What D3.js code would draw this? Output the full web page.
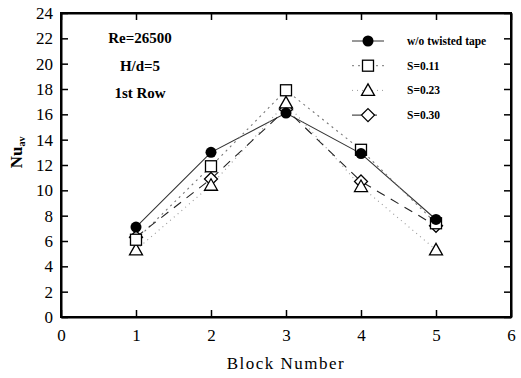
<!DOCTYPE html>
<html lang="en">
<head>
<meta charset="UTF-8">
<title>Nu av vs block number</title>
<style>
  body { margin: 0; background: #fff; }
</style>
</head>
<body>
<script src="https://d3js.org/d3.v7.min.js"></script>
<div id="chart"></div>
<script>

const blocks = [1, 2, 3, 4, 5];
const noTape = [7.1, 13.0, 16.1, 12.9, 7.7];
const s011 = [6.1, 11.9, 17.9, 13.2, 7.4];
const s023 = [5.3, 10.4, 16.9, 10.3, 5.3];
const s030 = [6.3, 10.9, 16.4, 10.7, 7.2];
const xTicks = [0, 1, 2, 3, 4, 5, 6];
const yTicks = [0, 2, 4, 6, 8, 10, 12, 14, 16, 18, 20, 22, 24];
const legendLabels = ["w/o twisted tape", "S=0.11", "S=0.23", "S=0.30"];
const notes = ["Re=26500", "H/d=5", "1st Row"];

const FONT = "Liberation Serif";
const width = 521, height = 378;
const margin = {left: 61, right: 10, top: 13, bottom: 61};

const svg = d3.select("#chart").append("svg")
    .attr("width", width)
    .attr("height", height)
    .style("font-family", FONT);

const x = d3.scaleLinear().domain([0, 6]).range([margin.left, width - margin.right]);
const y = d3.scaleLinear().domain([0, 24]).range([height - margin.bottom, margin.top]);

// series setup
const series = [
    {name: legendLabels[0], values: noTape, marker: "circle", dash: null, stroke: "#333"},
    {name: legendLabels[1], values: s011, marker: "square", dash: "2,4", stroke: "#777"},
    {name: legendLabels[2], values: s023, marker: "triangle", dash: "1,4", stroke: "#999"},
    {name: legendLabels[3], values: s030, marker: "diamond", dash: "9,7", stroke: "#222"}
];

// axes with inward ticks on all sides
const tickLen = 7;
svg.append("g")
    .attr("transform", `translate(0,${y(0)})`)
    .call(d3.axisBottom(x).tickValues(xTicks).tickFormat(d3.format("d")).tickSizeInner(-tickLen).tickSizeOuter(0).tickPadding(12))
    .call(g => g.attr("font-family", null).selectAll("text").attr("font-size", 17).attr("fill", "#000").style("font-family", FONT));
svg.append("g")
    .attr("transform", `translate(${x(0)},0)`)
    .call(d3.axisLeft(y).tickValues(yTicks).tickFormat(d3.format("d")).tickSizeInner(-tickLen).tickSizeOuter(0).tickPadding(8))
    .call(g => g.attr("font-family", null).selectAll("text").attr("font-size", 17).attr("fill", "#000").style("font-family", FONT));
svg.append("g")
    .attr("transform", `translate(0,${y(24)})`)
    .call(d3.axisTop(x).tickValues(xTicks).tickSizeInner(-tickLen).tickSizeOuter(0).tickFormat(""));
svg.append("g")
    .attr("transform", `translate(${x(6)},0)`)
    .call(d3.axisRight(y).tickValues(yTicks).tickSizeInner(-tickLen).tickSizeOuter(0).tickFormat(""));

svg.selectAll(".domain").attr("stroke", "#000").attr("stroke-width", 2);
svg.selectAll(".tick line").attr("stroke", "#000").attr("stroke-width", 1.5);

// frame
svg.append("rect")
    .attr("x", x(0)).attr("y", y(24))
    .attr("width", x(6) - x(0)).attr("height", y(0) - y(24))
    .attr("fill", "none").attr("stroke", "#000").attr("stroke-width", 2);

const line = d3.line().x((d, i) => x(blocks[i])).y(d => y(d));

svg.selectAll(".series")
    .data(series)
    .enter()
    .append("path")
    .attr("d", d => line(d.values))
    .attr("fill", "none")
    .attr("stroke", d => d.stroke)
    .attr("stroke-width", 1.1)
    .attr("stroke-dasharray", d => d.dash);

function drawMarker(g, type, cx, cy) {
    if (type === "circle") {
        g.append("circle").attr("cx", cx).attr("cy", cy).attr("r", 5.5).attr("fill", "#000");
    } else if (type === "square") {
        g.append("rect").attr("x", cx - 5.5).attr("y", cy - 5.5).attr("width", 11).attr("height", 11)
            .attr("fill", "#fff").attr("stroke", "#000").attr("stroke-width", 1.3);
    } else if (type === "triangle") {
        g.append("path").attr("d", `M${cx},${cy - 6.5}L${cx + 6.5},${cy + 5}L${cx - 6.5},${cy + 5}Z`)
            .attr("fill", "#fff").attr("stroke", "#000").attr("stroke-width", 1.3);
    } else {
        g.append("path").attr("d", `M${cx},${cy - 6.5}L${cx + 6.5},${cy}L${cx},${cy + 6.5}L${cx - 6.5},${cy}Z`)
            .attr("fill", "#fff").attr("stroke", "#000").attr("stroke-width", 1.3);
    }
}

// markers: draw diamond, triangle, square, then circle on top
const markerLayer = svg.append("g");
[3, 2, 1, 0].forEach(k => {
    series[k].values.forEach((v, i) => drawMarker(markerLayer, series[k].marker, x(blocks[i]), y(v)));
});

// legend
const legend = svg.append("g");
series.forEach((s, i) => {
    const ly = 41 + i * 24.7;
    legend.append("line")
        .attr("x1", 352).attr("x2", 384).attr("y1", ly).attr("y2", ly)
        .attr("stroke", s.stroke).attr("stroke-width", 1)
        .attr("stroke-dasharray", s.dash);
    drawMarker(legend, s.marker, 368, ly);
    legend.append("text")
        .attr("x", 407).attr("y", ly + 4)
        .attr("font-size", 11.5).attr("font-weight", "bold")
        .text(s.name);
});

// annotations
notes.forEach((t, i) => {
    svg.append("text")
        .attr("x", 140).attr("y", 43 + i * 27.5)
        .attr("text-anchor", "middle")
        .attr("font-size", 15).attr("font-weight", "bold")
        .text(t);
});

// axis titles
svg.append("text")
    .attr("x", x(3)).attr("y", 369)
    .attr("text-anchor", "middle")
    .attr("font-size", 17).attr("letter-spacing", 1.5)
    .text("Block Number");

const ylab = svg.append("text")
    .attr("transform", `translate(22,${y(13)}) rotate(-90)`)
    .attr("text-anchor", "middle")
    .attr("font-size", 17).attr("font-weight", "bold");
ylab.append("tspan").text("Nu");
ylab.append("tspan").attr("font-size", 10).attr("dy", 3).text("av");

</script>
</body>
</html>
